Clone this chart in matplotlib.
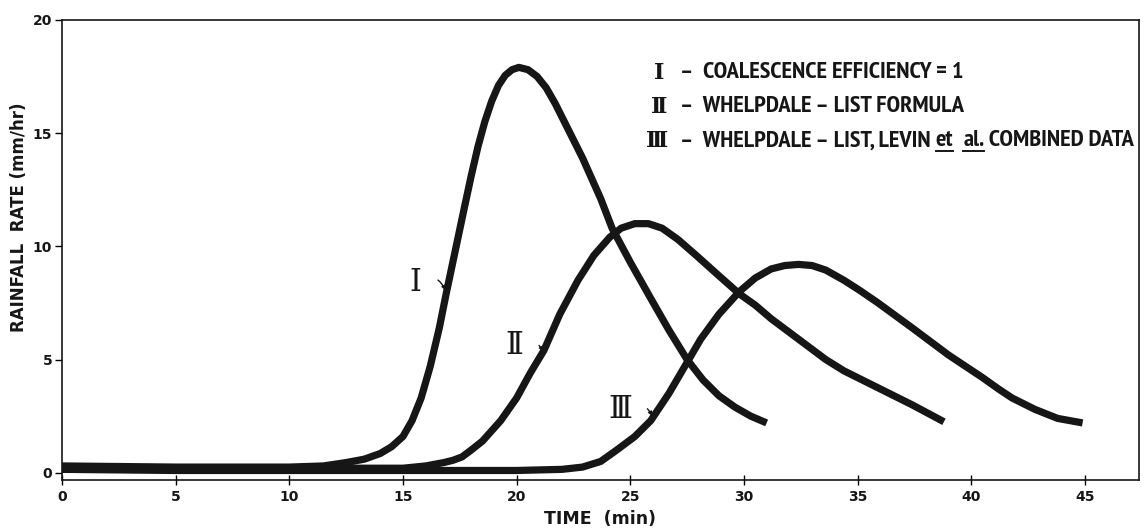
import matplotlib
matplotlib.use('Agg')
import matplotlib.pyplot as plt
from matplotlib import font_manager
from matplotlib.font_manager import FontProperties
from matplotlib.transforms import IdentityTransform
from matplotlib.lines import Line2D

# Rainfall rate (mm/hr) against time (min) for three collection models
t1 = [0, 5, 10, 11.5, 12.5, 13.3, 14.0, 14.5, 15.0, 15.4, 15.8, 16.2, 16.6, 16.9,
      17.3, 17.7, 18.0, 18.3, 18.6, 18.9, 19.2, 19.5, 19.8, 20.1, 20.5, 20.9,
      21.3, 21.7, 22.1, 22.5, 22.9, 23.7, 24.2, 25.0, 25.9, 26.7, 27.5, 28.2,
      28.9, 29.6, 30.3, 31.0]
r1 = [0.3, 0.25, 0.25, 0.3, 0.45, 0.6, 0.85, 1.15, 1.6, 2.3, 3.3, 4.7, 6.4, 7.9,
      9.8, 11.7, 13.1, 14.4, 15.5, 16.4, 17.1, 17.55, 17.8, 17.9, 17.8, 17.5,
      17.0, 16.3, 15.5, 14.7, 13.9, 12.1, 10.8, 9.3, 7.7, 6.3, 5.0, 4.1,
      3.4, 2.9, 2.5, 2.2]

t2 = [0, 5, 10, 15, 16.0, 16.8, 17.2, 17.6, 18.0, 18.5, 19.3, 20.0, 20.6, 21.2,
      21.9, 22.7, 23.4, 24.1, 24.6, 25.2, 25.8, 26.4, 27.1, 27.9, 28.9, 29.8,
      30.5, 31.2, 32.0, 32.8, 33.6, 34.4, 35.2, 36.0, 37.4, 38.8]
r2 = [0.2, 0.2, 0.2, 0.2, 0.3, 0.45, 0.55, 0.7, 1.0, 1.4, 2.3, 3.3, 4.4, 5.4,
      7.0, 8.5, 9.6, 10.4, 10.8, 11.0, 11.0, 10.8, 10.3, 9.6, 8.7, 7.9,
      7.4, 6.8, 6.2, 5.6, 5.0, 4.5, 4.1, 3.7, 3.0, 2.25]

t3 = [0, 5, 10, 15, 20, 22.0, 22.9, 23.7, 24.4, 25.2, 25.9, 26.7, 27.4, 28.1,
      28.9, 29.8, 30.5, 31.2, 31.8, 32.4, 33.0, 33.6, 34.4, 35.1, 35.9, 37.4,
      39.0, 40.5, 41.2, 41.8, 42.8, 43.8, 44.9]
r3 = [0.15, 0.1, 0.1, 0.1, 0.1, 0.15, 0.25, 0.5, 1.0, 1.6, 2.3, 3.5, 4.7, 5.9,
      7.0, 8.0, 8.6, 9.0, 9.15, 9.2, 9.15, 8.95, 8.5, 8.05, 7.5, 6.4,
      5.2, 4.2, 3.7, 3.3, 2.8, 2.4, 2.2]

x_ticks = [0, 5, 10, 15, 20, 25, 30, 35, 40, 45]
y_ticks = [0, 5, 10, 15, 20]

key_rows = [
    ('Ⅰ', [('–  COALESCENCE EFFICIENCY = 1', False)]),
    ('Ⅱ', [('–  WHELPDALE – LIST FORMULA', False)]),
    ('Ⅲ', [('–  WHELPDALE – LIST, LEVIN ', False), ('et', True), ('  ', False),
           ('al.', True), (' COMBINED DATA', False)]),
]

ink = '#161616'
serif = ['DejaVu Serif', 'DejaVu Sans']


def condensed_bold():
    """Pick a narrow bold face for the key if one is installed."""
    for f in font_manager.fontManager.ttflist:
        if 'Narrow' in f.name and f.weight in ('bold', 700):
            return FontProperties(fname=f.fname)
    for f in font_manager.fontManager.ttflist:
        if f.stretch in ('condensed', 'semi-condensed', 'extra-condensed') \
                and f.weight in ('bold', 700, 'heavy', 800, 'black', 900):
            return FontProperties(fname=f.fname)
    return FontProperties(family='DejaVu Sans', weight='bold')


key_font = condensed_bold()

fig = plt.figure(figsize=(11.44, 5.29), dpi=100)
ax = fig.add_axes([0.0542, 0.0935, 0.9414, 0.869])

for t, r in ((t1, r1), (t2, r2), (t3, r3)):
    ax.plot(t, r, color=ink, lw=5.2, solid_capstyle='butt', solid_joinstyle='round')

ax.set_xlim(0, 47.38)
ax.set_ylim(-0.3, 20)
ax.set_xticks(x_ticks)
ax.set_yticks(y_ticks)
ax.tick_params(axis='x', direction='inout', length=7, width=1, pad=4)
ax.tick_params(axis='y', direction='out', length=5, width=1, pad=2)
for lab in ax.get_xticklabels() + ax.get_yticklabels():
    lab.set_fontsize(10)
    lab.set_fontweight('bold')
    lab.set_color(ink)
for sp in ax.spines.values():
    sp.set_linewidth(1.2)
    sp.set_color(ink)

ax.set_xlabel('TIME  (min)', fontsize=12.5, fontweight='bold', color=ink, labelpad=4)
ax.set_ylabel('RAINFALL  RATE (mm/hr)', fontsize=12, fontweight='bold', color=ink)
ax.yaxis.set_label_coords(-0.032, 0.57)

# curve labels with small wavy pointers
labels = [('Ⅰ', (15.55, 8.4), (16.9, 8.0)),
          ('Ⅱ', (19.9, 5.6), (21.2, 5.3)),
          ('Ⅲ', (24.55, 2.8), (26.0, 2.45))]
for txt, pos, tip in labels:
    ax.annotate(txt, xy=tip, xytext=pos, ha='center', va='center',
                fontsize=22, family=serif, color=ink,
                arrowprops=dict(arrowstyle='-|>', color=ink, lw=1.0,
                                mutation_scale=6, shrinkA=10, shrinkB=1,
                                connectionstyle='arc3,rad=-0.6'))

# key in the upper right corner, built piece by piece so parts can be underlined
renderer = fig.canvas.get_renderer()
ident = IdentityTransform()
H = 529

# size the key font so the longest row runs from x=680 to x=1132
probe = fig.text(0, 0, ''.join(s for s, _ in key_rows[2][1]), transform=ident,
                 fontproperties=key_font, fontsize=14)
w14 = probe.get_window_extent(renderer).width
probe.remove()
key_size = min(18.0, 14 * 452 / w14)


def key_row(xc, x0, y, numeral, pieces):
    fig.text(xc, H - y, numeral, transform=ident, ha='center', va='center',
             fontsize=16, fontweight='bold', family=serif, color=ink)
    x = x0
    for s, under in pieces:
        tx = fig.text(x, H - y, s, transform=ident, ha='left', va='center',
                      fontproperties=key_font, fontsize=key_size, color=ink)
        bb = tx.get_window_extent(renderer)
        if under:
            fig.add_artist(Line2D([bb.x0, bb.x1], [bb.y0 + 1, bb.y0 + 1],
                                  transform=ident, color=ink, lw=1.4))
        x = bb.x1


for (numeral, pieces), y, xc in zip(key_rows, (73, 107, 141), (659, 659, 657)):
    key_row(xc, 680, y, numeral, pieces)

fig.savefig('out.png', dpi=100)
